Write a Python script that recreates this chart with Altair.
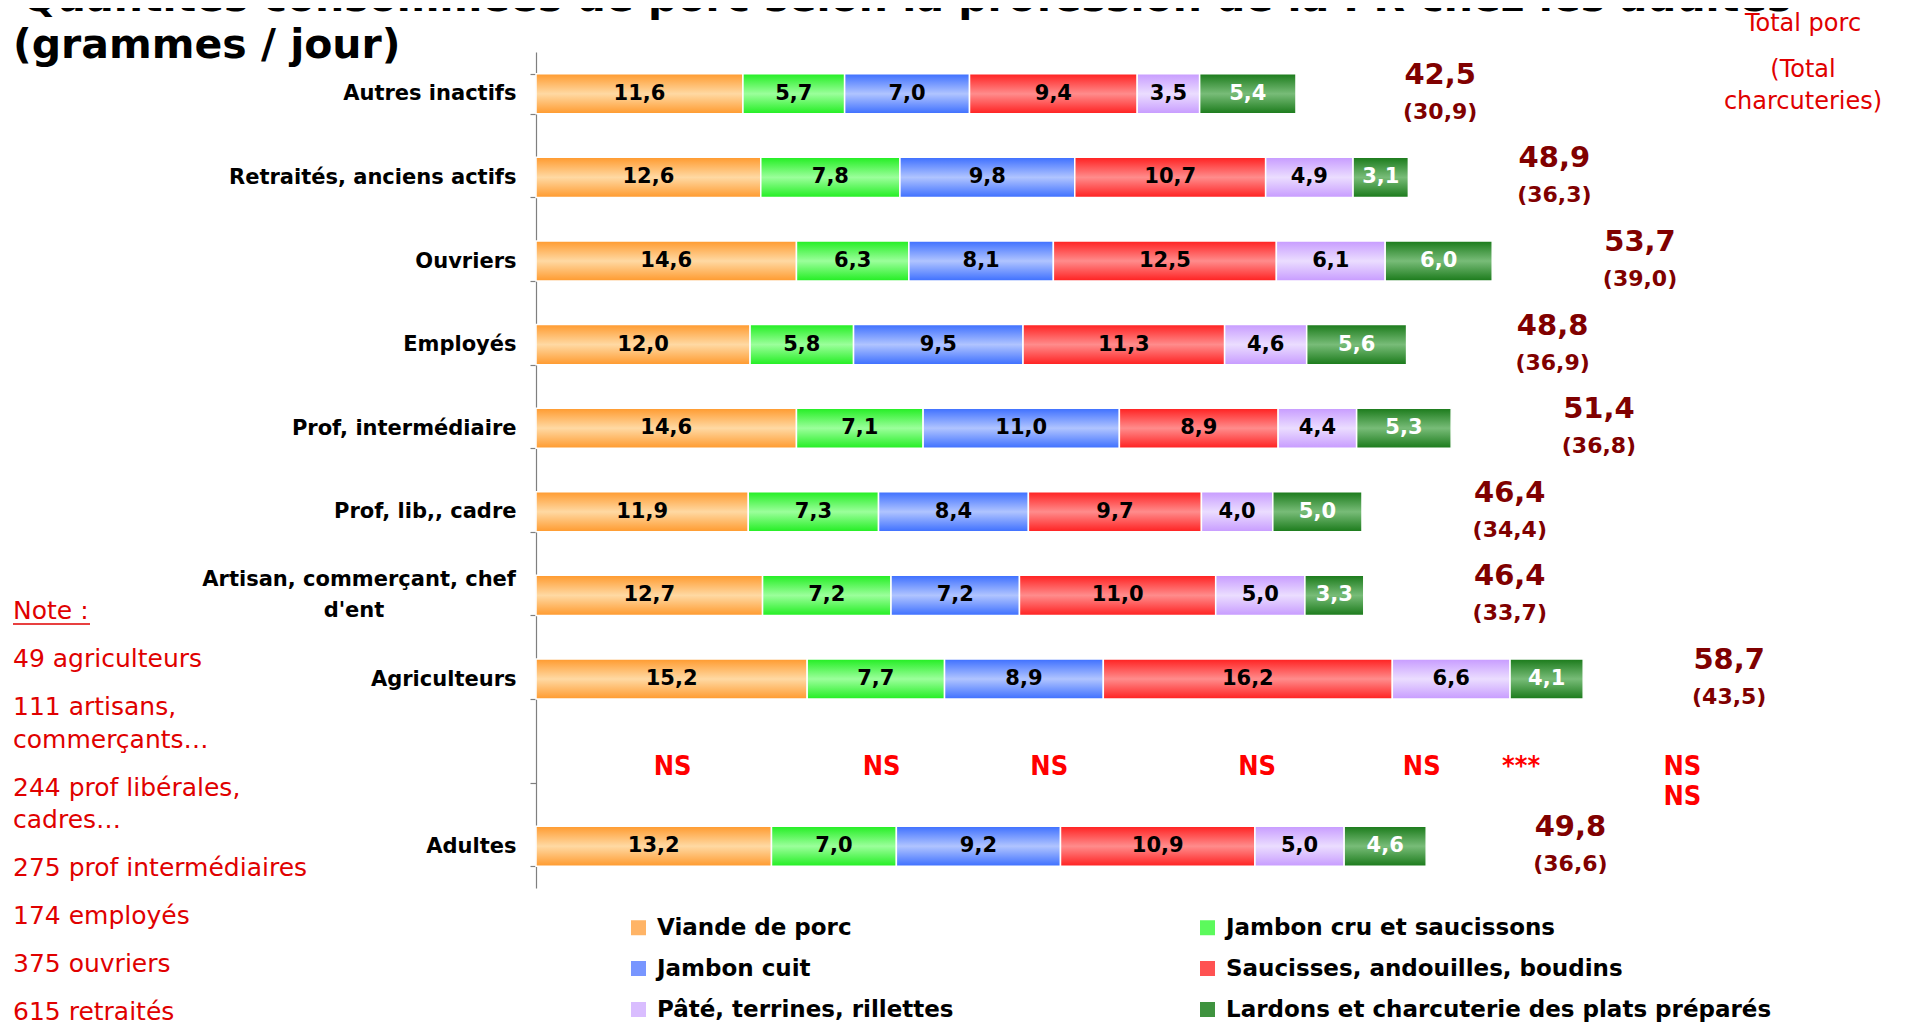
import json
import altair as alt
import pandas as pd

# ---------------- data ----------------
rows = ["Autres inactifs", "Retraités, anciens actifs", "Ouvriers", "Employés",
        "Prof, intermédiaire", "Prof, lib,, cadre", "Artisan, commerçant, chef d'ent",
        "Agriculteurs", " ", "Adultes"]
data_rows = ["Autres inactifs", "Retraités, anciens actifs", "Ouvriers", "Employés",
             "Prof, intermédiaire", "Prof, lib,, cadre", "Artisan, commerçant, chef d'ent",
             "Agriculteurs", "Adultes"]
cats = ["Viande de porc", "Jambon cru et saucissons", "Jambon cuit",
        "Saucisses, andouilles, boudins", "Pâté, terrines, rillettes",
        "Lardons et charcuterie des plats préparés"]
viande = [11.6, 12.6, 14.6, 12.0, 14.6, 11.9, 12.7, 15.2, 13.2]
jambon_cru = [5.7, 7.8, 6.3, 5.8, 7.1, 7.3, 7.2, 7.7, 7.0]
jambon_cuit = [7.0, 9.8, 8.1, 9.5, 11.0, 8.4, 7.2, 8.9, 9.2]
saucisses = [9.4, 10.7, 12.5, 11.3, 8.9, 9.7, 11.0, 16.2, 10.9]
pate = [3.5, 4.9, 6.1, 4.6, 4.4, 4.0, 5.0, 6.6, 5.0]
lardons = [5.4, 3.1, 6.0, 5.6, 5.3, 5.0, 3.3, 4.1, 4.6]
total_porc = [42.5, 48.9, 53.7, 48.8, 51.4, 46.4, 46.4, 58.7, 49.8]
total_charc = [30.9, 36.3, 39.0, 36.9, 36.8, 34.4, 33.7, 43.5, 36.6]
significance = ["NS", "NS", "NS", "NS", "NS", "***"]
significance_total = ["NS", "NS"]
title_lines = ["Quantités consommées de porc selon la profession de la PR chez les adultes",
               "(grammes / jour)"]
total_header = ["Total porc", "(Total", "charcuteries)"]
artisan_lines = ["Artisan, commerçant, chef", "d'ent"]
note_title = "Note :"
note_paragraphs = [["49 agriculteurs"], ["111 artisans,", "commerçants…"],
                   ["244 prof libérales,", "cadres…"], ["275 prof intermédiaires"],
                   ["174 employés"], ["375 ouvriers"], ["615 retraités"]]

# ---------------- styles ----------------
dark = ["#FF9A2E", "#22EE22", "#3D6FFF", "#FF2020", "#C79BFF", "#1A7A1A"]
light = ["#FFD9A3", "#9BFF9B", "#B0C4FF", "#FF8C8C", "#EBDDFF", "#78BC78"]
solid = ["#FFB466", "#5CFA5C", "#7896FF", "#FF5252", "#D9BDFF", "#3F933F"]
FONT = "DejaVu Sans"
NARROW = "DejaVu Sans Condensed, Liberation Sans Narrow, DejaVu Sans"
RED = "#E00000"
DARKRED = "#800000"


def fmt(v):
    return f"{v:.1f}".replace(".", ",")


series = [viande, jambon_cru, jambon_cuit, saucisses, pate, lardons]
recs = []
for i, r in enumerate(data_rows):
    for j, c in enumerate(cats):
        recs.append({"row": r, "cat": c, "order": j, "value": series[j][i],
                     "label": fmt(series[j][i]), "sig": significance[j]})
df = pd.DataFrame(recs)

tot = pd.DataFrame({"row": data_rows, "total": total_porc, "charc": total_charc,
                    "tlabel": [fmt(v) for v in total_porc],
                    "clabel": ["(" + fmt(v) + ")" for v in total_charc]})

# ---------------- scales / axes ----------------
artisan = "Artisan, commerçant, chef d'ent"
label_expr = ("datum.value == " + json.dumps(artisan, ensure_ascii=False) +
              " ? '' : datum.value")

Y = alt.Y("row:N", sort=rows,
          scale=alt.Scale(domain=rows, paddingInner=0.52, paddingOuter=0.26),
          axis=alt.Axis(title=None, tickBand="extent", labelFont=FONT, labelFontSize=21,
                        labelFontWeight="bold", labelColor="black", labelPadding=14,
                        labelLimit=600, labelExpr=label_expr,
                        domainColor="#7F7F7F", tickColor="#7F7F7F", tickSize=6,
                        domainWidth=1.2, tickWidth=1.2))
XS = alt.Scale(domain=[0, 75], nice=False, zero=True)

base = alt.Chart(df).transform_stack(
    stack="value", groupby=["row"], as_=["x0", "x1"], sort=[alt.SortField("order")]
)

legend_layer = base.mark_bar().encode(
    y=Y,
    x=alt.X("x0:Q", scale=XS, axis=None),
    x2="x1:Q",
    color=alt.Color("cat:N", scale=alt.Scale(domain=cats, range=solid),
                    legend=alt.Legend(title=None, orient="none", legendX=91, legendY=864,
                                      direction="horizontal",
                                      columns=2, gridAlign="each", columnPadding=242,
                                      rowPadding=17, symbolType="square", symbolSize=225,
                                      symbolStrokeWidth=0, labelOffset=7,
                                      labelFont=FONT, labelFontSize=23,
                                      labelFontWeight="bold", labelColor="black",
                                      labelLimit=800, padding=0)),
)

grad_layers = []
for j, c in enumerate(cats):
    g = alt.Gradient(gradient="linear", x1=0, x2=0, y1=0, y2=1,
                     stops=[alt.GradientStop(color=dark[j], offset=0),
                            alt.GradientStop(color=light[j], offset=0.5),
                            alt.GradientStop(color=dark[j], offset=1)])
    grad_layers.append(
        base.transform_filter(alt.datum.cat == c)
        .mark_bar(fill=g, stroke="white", strokeWidth=1.5)
        .encode(y=Y, x=alt.X("x0:Q", scale=XS, axis=None), x2="x1:Q")
    )

bar_text = base.transform_calculate(mid="(datum.x0 + datum.x1) / 2").mark_text(
    font=FONT, fontSize=21, fontWeight="bold", baseline="middle", align="center"
).encode(
    y=Y, x=alt.X("mid:Q", scale=XS, axis=None), text="label:N",
    color=alt.condition(alt.datum.cat == cats[5], alt.value("white"), alt.value("black")),
)

sig_text = base.transform_filter(alt.datum.row == "Adultes").transform_calculate(
    xs="(datum.x0 + datum.x1) / 2 * 1.16", row='" "'
).mark_text(font=NARROW, fontSize=27, fontWeight="bold", color="#FF0000",
            baseline="middle", align="center", dy=4).encode(
    y=Y, x=alt.X("xs:Q", scale=XS, axis=None), text="sig:N"
)

tot_base = alt.Chart(tot)
tot_big = tot_base.mark_text(font=FONT, fontSize=29, fontWeight="bold", color=DARKRED,
                             align="center", baseline="middle", dx=146, dy=-19).encode(
    y=Y, x=alt.X("total:Q", scale=XS, axis=None), text="tlabel:N")
tot_small = tot_base.mark_text(font=FONT, fontSize=22, fontWeight="bold", color=DARKRED,
                               align="center", baseline="middle", dx=146, dy=18).encode(
    y=Y, x=alt.X("total:Q", scale=XS, axis=None), text="clabel:N")
tot_sig = alt.Chart(tot[tot.row == "Adultes"].assign(s=[significance_total])).transform_calculate(
    row='" "').mark_text(font=NARROW, fontSize=27, fontWeight="bold", color="#FF0000",
                         align="center", baseline="middle", dx=258, dy=4, lineHeight=30).encode(
    y=Y, x=alt.X("total:Q", scale=XS, axis=None), text="s")

# artisan two-line axis label (line 1 right-aligned, line 2 centred under it)
art_df = pd.DataFrame({"row": [artisan], "t1": [artisan_lines[0]], "t2": [artisan_lines[1]]})
art1 = alt.Chart(art_df).mark_text(font=FONT, fontSize=21, fontWeight="bold", color="black",
                                   align="right", baseline="middle", dy=-15).encode(
    y=Y, x=alt.value(-20), text="t1:N")
art2 = alt.Chart(art_df).mark_text(font=FONT, fontSize=21, fontWeight="bold", color="black",
                                   align="center", baseline="middle", dy=16).encode(
    y=Y, x=alt.value(-182), text="t2:N")

# ---------------- annotations ----------------
title1 = alt.Chart(pd.DataFrame({"t": [title_lines[0]]})).mark_text(
    font=FONT, fontSize=41, fontWeight="bold", color="black", align="left",
    baseline="alphabetic").encode(x=alt.value(-514), y=alt.value(-41), text="t:N")
title2 = alt.Chart(pd.DataFrame({"t": [title_lines[1]]})).mark_text(
    font=FONT, fontSize=41, fontWeight="bold", color="black", align="left",
    baseline="alphabetic").encode(x=alt.value(-523), y=alt.value(6), text="t:N")

hdr = alt.Chart(pd.DataFrame({"t": total_header, "i": [0, 1, 2]})).transform_calculate(
    yy="datum.i == 0 ? -28 : (datum.i == 1 ? 18 : 50)"
).mark_text(font=FONT, fontSize=24, color=RED, align="center", baseline="middle").encode(
    x=alt.value(1267), y=alt.Y("yy:Q", scale=None), text="t:N")

note_recs = [{"t": note_title, "y": 559}]
y = 559
for k, para in enumerate(note_paragraphs):
    y += 48 if k == 0 else 48 + 32.5 * (len(note_paragraphs[k - 1]) - 1)
    for m, line in enumerate(para):
        note_recs.append({"t": line, "y": y + 32.5 * m})
notes = alt.Chart(pd.DataFrame(note_recs)).mark_text(
    font=FONT, fontSize=25, color=RED, align="left", baseline="middle").encode(
    x=alt.value(-523), y=alt.Y("y:Q", scale=None), text="t:N")
underline = alt.Chart(pd.DataFrame({"a": [0]})).mark_rule(color=RED, strokeWidth=1.5).encode(
    x=alt.value(-523), x2=alt.value(-446), y=alt.value(572))

chart = alt.layer(
    legend_layer, *grad_layers, bar_text, sig_text, tot_big, tot_small, tot_sig,
    art1, art2, title1, title2, hdr, notes, underline
).properties(
    width=1338, height=836,
    padding={"left": 528, "top": 44, "right": 15, "bottom": 145},
    autosize=alt.AutoSizeParams(type="none"),
).configure_view(stroke=None)

chart.save("out.html", embed_options={"renderer": "svg", "actions": False})
